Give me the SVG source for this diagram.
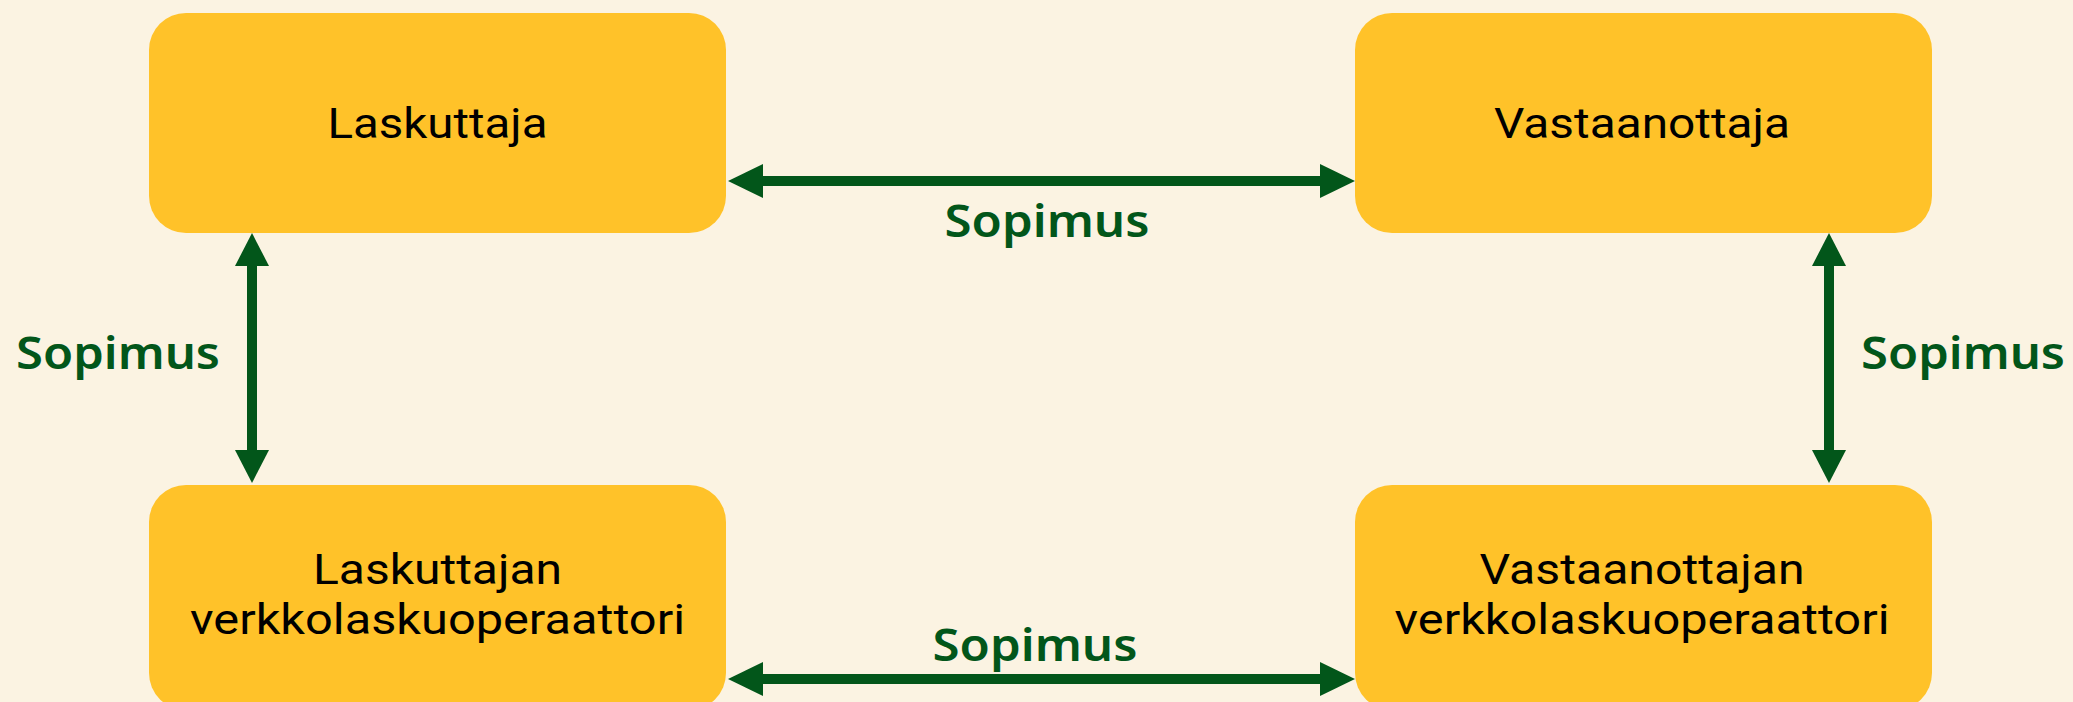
<svg xmlns="http://www.w3.org/2000/svg" width="2073" height="702" viewBox="0 0 2073 702">
<style>
.box{fill:#FFC229}
.t{font-family:Roboto,"Noto Sans","Liberation Sans",sans-serif;font-size:42px;fill:#000;text-anchor:middle}
.lbl{font-family:"Noto Sans","Liberation Sans",sans-serif;font-size:45px;font-weight:600;fill:#02561A;text-anchor:middle}
.shaft{stroke:#02561A;stroke-width:10;fill:none}
.head{fill:#02561A}
</style>
<rect x="0" y="0" width="2073" height="702" fill="#FBF3E2"/>
<g id="laskuttaja">
<rect class="box" x="149" y="13" width="577" height="220" rx="37"/>
<text class="t" x="437.5" y="138" textLength="220" lengthAdjust="spacingAndGlyphs">Laskuttaja</text>
</g>
<g id="vastaanottaja">
<rect class="box" x="1355" y="13" width="577" height="220" rx="37"/>
<text class="t" x="1642" y="138" textLength="296" lengthAdjust="spacingAndGlyphs">Vastaanottaja</text>
</g>
<g id="laskuttajan-operaattori">
<rect class="box" x="149" y="485" width="577" height="225" rx="37"/>
<text class="t" x="437.5" y="584" textLength="249" lengthAdjust="spacingAndGlyphs">Laskuttajan</text>
<text class="t" x="437.5" y="634" textLength="495" lengthAdjust="spacingAndGlyphs">verkkolaskuoperaattori</text>
</g>
<g id="vastaanottajan-operaattori">
<rect class="box" x="1355" y="485" width="577" height="225" rx="37"/>
<text class="t" x="1642" y="584" textLength="325" lengthAdjust="spacingAndGlyphs">Vastaanottajan</text>
<text class="t" x="1642" y="634" textLength="495" lengthAdjust="spacingAndGlyphs">verkkolaskuoperaattori</text>
</g>
<g id="connectors">
<line class="shaft" x1="760" y1="181" x2="1322" y2="181"/>
<polygon class="head" points="728,181 763,164 763,198"/>
<polygon class="head" points="1355,181 1320,164 1320,198"/>
<line class="shaft" x1="760" y1="679" x2="1322" y2="679"/>
<polygon class="head" points="728,679 763,662 763,696"/>
<polygon class="head" points="1355,679 1320,662 1320,696"/>
<line class="shaft" x1="252" y1="262" x2="252" y2="454"/>
<polygon class="head" points="252,233 235,266 269,266"/>
<polygon class="head" points="252,483 235,450 269,450"/>
<line class="shaft" x1="1829" y1="262" x2="1829" y2="454"/>
<polygon class="head" points="1829,233 1812,266 1846,266"/>
<polygon class="head" points="1829,483 1812,450 1846,450"/>
<text class="lbl" x="1047" y="237" textLength="205" lengthAdjust="spacingAndGlyphs">Sopimus</text>
<text class="lbl" x="1035" y="661" textLength="205" lengthAdjust="spacingAndGlyphs">Sopimus</text>
<text class="lbl" x="118" y="369" textLength="204" lengthAdjust="spacingAndGlyphs">Sopimus</text>
<text class="lbl" x="1963" y="369" textLength="204" lengthAdjust="spacingAndGlyphs">Sopimus</text>
</g>
</svg>
